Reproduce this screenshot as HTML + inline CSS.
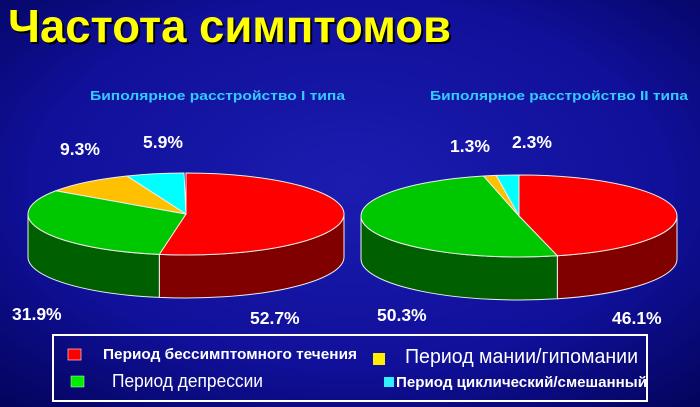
<!DOCTYPE html>
<html><head><meta charset="utf-8"><style>
html,body{margin:0;padding:0;width:700px;height:407px;overflow:hidden}
svg{display:block}
</style></head><body>
<svg id="s" width="700" height="407" xmlns="http://www.w3.org/2000/svg" font-family="Liberation Sans, sans-serif">
<defs>
<radialGradient id="bg" cx="50%" cy="45%" r="75%">
<stop offset="0" stop-color="#1c1cb0"/><stop offset="0.6" stop-color="#10109a"/><stop offset="1" stop-color="#03035a"/>
</radialGradient>
</defs>
<rect width="700" height="407" fill="url(#bg)"/>
<text x="10" y="44" font-size="46" font-weight="bold" fill="#000" textLength="443" lengthAdjust="spacingAndGlyphs">Частота симптомов</text>
<text x="8" y="42" font-size="46" font-weight="bold" fill="#ffff00" textLength="443" lengthAdjust="spacingAndGlyphs">Частота симптомов</text>
<text x="90" y="100" font-size="13" font-weight="bold" fill="#33ccff" textLength="255" lengthAdjust="spacingAndGlyphs">Биполярное расстройство I типа</text>
<text x="430" y="100" font-size="13" font-weight="bold" fill="#33ccff" textLength="258" lengthAdjust="spacingAndGlyphs">Биполярное расстройство II типа</text>
<g id="pies"></g>
<g font-size="17.5" font-weight="bold" fill="#fff">
<text x="60" y="155">9.3%</text>
<text x="143" y="148">5.9%</text>
<text x="12" y="320">31.9%</text>
<text x="250" y="324">52.7%</text>
<text x="450" y="152">1.3%</text>
<text x="512" y="148">2.3%</text>
<text x="377" y="321">50.3%</text>
<text x="612" y="324">46.1%</text>
</g>
<rect x="53" y="335" width="594" height="66" fill="none" stroke="#fff" stroke-width="2"/>
<rect x="68" y="349" width="13" height="11" fill="#ff0000" stroke="#fcc" stroke-width="0.7"/>
<text x="103" y="359" font-size="15" font-weight="bold" fill="#fff" textLength="254" lengthAdjust="spacingAndGlyphs">Период бессимптомного течения</text>
<rect x="373" y="353" width="12" height="12" fill="#ffee00"/>
<text x="405" y="363" font-size="20" fill="#fff" textLength="233" lengthAdjust="spacingAndGlyphs">Период мании/гипомании</text>
<rect x="71" y="376" width="13" height="11" fill="#00ee00" stroke="#cfc" stroke-width="0.5"/>
<text x="112" y="387" font-size="18" fill="#fff" textLength="151" lengthAdjust="spacingAndGlyphs">Период депрессии</text>
<rect x="384" y="377" width="10" height="10" fill="#33eeff"/>
<text x="396" y="387" font-size="15" font-weight="bold" fill="#fff" textLength="251" lengthAdjust="spacingAndGlyphs">Период циклический/смешанный</text>
</svg>
<script>
var NS="http://www.w3.org/2000/svg";
var g=document.getElementById("pies");
function el(t,a){var e=document.createElementNS(NS,t);for(var k in a)e.setAttribute(k,a[k]);g.appendChild(e);return e;}
function pie(cx,cy,rx,ry,d,vals){
 var top=["#ff0000","#00c800","#ffc000","#00ffff"],side=["#800000","#006000","#a07800","#00a0a0"];
 var P=function(t,dy){return [cx+rx*Math.sin(t),cy-ry*Math.cos(t)+(dy||0)];};
 var a=0,sl=[];
 vals.forEach(function(v,i){var b=a+v/100*2*Math.PI;sl.push([a,b,i]);a=b;});
 sl.forEach(function(s){
  var a0=Math.max(s[0],Math.PI/2),a1=Math.min(s[1],3*Math.PI/2);
  if(a1<=a0)return;
  var p0=P(a0),p1=P(a1);
  var dd="M"+p0+" A"+rx+" "+ry+" 0 0 1 "+p1+" L"+P(a1,d)+" A"+rx+" "+ry+" 0 0 0 "+P(a0,d)+" Z";
  el("path",{d:dd,fill:side[s[2]],stroke:"#eee","stroke-width":"1"});
 });
 sl.forEach(function(s){
  var p0=P(s[0]),p1=P(s[1]),large=(s[1]-s[0])>Math.PI?1:0;
  el("path",{d:"M"+cx+","+cy+" L"+p0+" A"+rx+" "+ry+" 0 "+large+" 1 "+p1+" Z",fill:top[s[2]],stroke:"#eee","stroke-width":"1"});
 });
}
pie(186,214,158,41,43,[52.7,31.9,9.3,5.9]);
pie(519,216,158,41,43,[46.1,50.3,1.3,2.3]);
</script>
</body></html>
